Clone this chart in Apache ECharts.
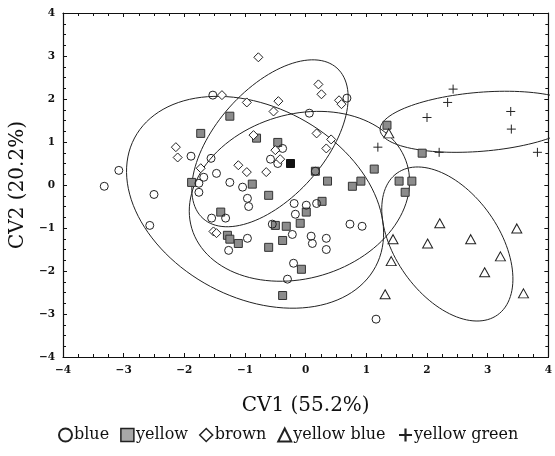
<!DOCTYPE html>
<html><head><meta charset="utf-8">
<script src="https://cdn.jsdelivr.net/npm/echarts@6/dist/echarts.min.js"></script>
<style>html,body{margin:0;padding:0;background:#fff}#c{width:555px;height:456px}</style>
</head><body><div id="c"></div>
<script>
const axisTicks = [-4, -3, -2, -1, 0, 1, 2, 3, 4];
const seriesNames = ['blue', 'yellow', 'brown', 'yellow blue', 'yellow green'];
const blue = [[-3.32,-0.03],[-3.08,0.34],[-2.50,-0.22],[-2.57,-0.94],[-1.53,2.09],[-1.89,0.67],[-1.56,0.62],[-1.47,0.27],[-1.68,0.18],[-1.76,0.04],[-1.76,-0.17],[-1.25,0.06],[-1.04,-0.05],[-0.96,-0.31],[-0.94,-0.50],[-1.55,-0.77],[-1.32,-0.77],[-0.96,-1.24],[-1.27,-1.52],[-0.58,0.60],[-0.46,0.50],[-0.38,0.85],[0.06,1.67],[0.68,2.02],[-0.55,-0.91],[-0.22,-1.15],[-0.19,-0.43],[0.01,-0.47],[0.18,-0.43],[-0.17,-0.68],[0.73,-0.91],[0.93,-0.96],[0.09,-1.19],[0.11,-1.36],[0.34,-1.24],[0.34,-1.50],[-0.20,-1.82],[-0.30,-2.19],[1.16,-3.12],[0.16,0.32]];
const yellow = [[-1.73,1.20],[-1.25,1.60],[-0.81,1.09],[-0.46,0.99],[-1.88,0.06],[-0.88,0.02],[-0.61,-0.24],[-1.40,-0.63],[-1.29,-1.17],[-1.25,-1.26],[-1.11,-1.36],[-0.50,-0.94],[-0.32,-0.96],[-0.09,-0.89],[-0.38,-1.29],[-0.61,-1.45],[0.01,-0.63],[0.27,-0.38],[-0.07,-1.96],[-0.38,-2.57],[0.36,0.09],[0.77,-0.03],[0.91,0.09],[1.13,0.37],[1.54,0.09],[1.75,0.09],[1.64,-0.17],[1.92,0.74],[1.34,1.39],[0.16,0.32]];
const yellowDark = [[-0.25,0.50]];
const brown = [[-0.78,2.97],[-1.38,2.09],[-0.97,1.92],[-0.45,1.95],[-0.53,1.71],[0.21,2.34],[0.26,2.11],[0.55,1.97],[0.59,1.88],[0.18,1.20],[0.42,1.06],[0.34,0.85],[-0.86,1.16],[-0.50,0.81],[-0.42,0.60],[-0.65,0.30],[-1.11,0.46],[-0.97,0.30],[-1.73,0.39],[-2.14,0.88],[-2.11,0.64],[-1.52,-1.08],[-1.47,-1.12]];
const yellowBlue = [[1.37,1.20],[2.21,-0.89],[3.48,-1.01],[1.44,-1.26],[2.01,-1.36],[2.72,-1.26],[3.21,-1.66],[1.41,-1.77],[2.95,-2.03],[1.31,-2.54],[3.59,-2.52]];
const yellowGreen = [[2.43,2.23],[2.34,1.92],[2.00,1.57],[3.38,1.71],[3.39,1.30],[3.82,0.76],[1.19,0.88],[2.20,0.76]];
// ellipse: centre and two conjugate semi-axis vectors, in data units
const ellipseCenter = [[2.885,1.47],[2.335,-1.372],[-0.588,0.970],[-0.103,-0.263],[-0.834,-0.402]];
const ellipseAxisU = [[1.658,0.192],[0.828,-1.649],[1.104,1.749],[1.775,0.744],[1.987,-1.495]];
const ellipseAxisV = [[0.039,-0.684],[0.695,0.700],[0.665,-0.842],[0.383,-1.830],[-0.736,-1.958]];

const FONT = 'DejaVu Serif';
const minus = v => (v < 0 ? '\u2212' + Math.abs(v) : String(v));
const plusPath = 'path://M0,5 L10,5 M5,0 L5,10';

function axisBase(pos, show) {
  return {
    type: 'value', min: axisTicks[0], max: axisTicks[axisTicks.length - 1], interval: 1,
    position: pos,
    axisLine: { show: true, onZero: false, lineStyle: { color: '#111', width: 1.2 } },
    axisTick: { show: true, inside: true, length: 4, lineStyle: { color: '#111' } },
    minorTick: { show: true, splitNumber: 4, length: 3, lineStyle: { color: '#111' } },
    splitLine: { show: false },
    axisLabel: { show: show, formatter: minus, color: '#111', fontFamily: FONT, fontWeight: 'bold', fontSize: 10.5 }
  };
}

const chart = echarts.init(document.getElementById('c'), null, { renderer: 'canvas' });
const ellipseData = ellipseCenter.map((c, i) => [c[0], c[1], i]);

chart.setOption({
  animation: false,
  backgroundColor: '#fff',
  grid: { left: 63, right: 5, top: 13, bottom: 99 },
  xAxis: [
    Object.assign(axisBase('bottom', true), {
      name: 'CV1 (55.2%)', nameLocation: 'middle', nameGap: 39,
      nameTextStyle: { fontFamily: FONT, fontSize: 20, color: '#111' },
      axisLabel: { show: true, formatter: minus, color: '#111', fontFamily: FONT, fontWeight: 'bold', fontSize: 10.5, margin: 8 }
    }),
    axisBase('top', false)
  ],
  yAxis: [
    Object.assign(axisBase('left', true), {
      name: 'CV2 (20.2%)', nameLocation: 'middle', nameGap: 28,
      nameTextStyle: { fontFamily: FONT, fontSize: 20, color: '#111' },
      axisLabel: { show: true, formatter: minus, color: '#111', fontFamily: FONT, fontWeight: 'bold', fontSize: 10.5, margin: 8 }
    }),
    axisBase('right', false)
  ],
  legend: {
    data: [
      { name: seriesNames[0], itemStyle: { borderWidth: 2 } },
      { name: seriesNames[1], itemStyle: { color: '#a8a8a8', borderWidth: 1.5, borderColor: '#222' } },
      { name: seriesNames[2], itemStyle: { borderWidth: 1.5 } },
      { name: seriesNames[3] },
      { name: seriesNames[4], itemStyle: { borderWidth: 2.2 } }
    ],
    bottom: 7, left: 53, itemGap: 11, itemWidth: 13, itemHeight: 13,
    textStyle: { fontFamily: FONT, fontSize: 16, color: '#111', padding: [0, 0, 0, -3] }
  },
  series: [
    {
      type: 'custom', name: 'ellipses', silent: true, clip: true, z: 1,
      data: ellipseData, encode: { x: 0, y: 1 },
      renderItem: function (params, api) {
        const i = api.value(2);
        const c = ellipseCenter[i], u = ellipseAxisU[i], v = ellipseAxisV[i];
        const pts = [];
        for (let k = 0; k <= 120; k++) {
          const t = 2 * Math.PI * k / 120;
          pts.push(api.coord([c[0] + u[0] * Math.cos(t) + v[0] * Math.sin(t), c[1] + u[1] * Math.cos(t) + v[1] * Math.sin(t)]));
        }
        return { type: 'polyline', shape: { points: pts }, style: { fill: null, stroke: '#222', lineWidth: 1 } };
      }
    },
    { type: 'scatter', name: 'yellow', data: yellow, symbol: 'rect', symbolSize: 8, z: 3,
      itemStyle: { color: '#8c8c8c', borderColor: '#333', borderWidth: 1, opacity: 1 } },
    { type: 'scatter', name: 'yellowDark', data: yellowDark, symbol: 'rect', symbolSize: 8, z: 3,
      itemStyle: { color: '#111', borderColor: '#111', borderWidth: 1, opacity: 1 } },
    { type: 'scatter', name: 'blue', data: blue, symbol: 'circle', symbolSize: 8, z: 4,
      itemStyle: { color: 'rgba(255,255,255,0)', borderColor: '#222', borderWidth: 1, opacity: 1 } },
    { type: 'scatter', name: 'brown', data: brown, symbol: 'diamond', symbolSize: 9, z: 4,
      itemStyle: { color: '#fff', borderColor: '#222', borderWidth: 1, opacity: 1 } },
    { type: 'scatter', name: 'yellow blue', data: yellowBlue, symbol: 'triangle', symbolSize: [10, 9], z: 4,
      itemStyle: { color: '#fff', borderColor: '#222', borderWidth: 1, opacity: 1 } },
    { type: 'scatter', name: 'yellow green', data: yellowGreen, symbol: plusPath, symbolSize: 9, z: 4,
      itemStyle: { color: 'none', borderColor: '#222', borderWidth: 1, opacity: 1 } }
  ]
});
</script></body></html>
